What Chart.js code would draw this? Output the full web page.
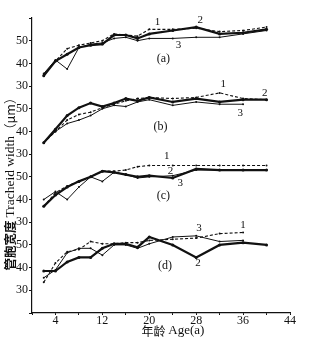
<!DOCTYPE html>
<html>
<head>
<meta charset="utf-8">
<script src="https://cdn.jsdelivr.net/npm/chart.js@4"></script>
<style>
  html, body { margin: 0; background: #fff; }
  #wrap { width: 322px; height: 348px; }
</style>
</head>
<body>
<div id="wrap"><canvas id="chart"></canvas></div>
<script>
// ages (years) where the widths were measured
const ages = [2, 4, 6, 8, 10, 12, 14, 16, 18, 20, 24, 28, 32, 36, 40];

// tracheid width (um), panel (a)..(d), series 1 (dashed), 2 (thick), 3 (thin)
const a1 = [35, 41, 46.5, 48, 49, 50, 53, 52.5, 52, 55, 55, 55.5, 54, 54.5, 56];
const a2 = [34.5, 41, 44, 47, 48, 48.5, 52.5, 52.5, 51, 53, 54.5, 56, 53, 53.5, 55];
const a3 = [35.5, 41.5, 37.5, 47, 48.5, 49, 51, 51.5, 50, 51, 51, 51.5, 51.5, 53, 54.5];

const b1 = [35, 40, 45, 47.5, 48.5, 50.5, 52, 53.5, 54.5, 55, 54.5, 55, 57, 54.5, 54];
const b2 = [35, 41, 47, 50.5, 52.5, 51, 52.5, 54.5, 53.5, 55, 53, 54.5, 53, 54, 54];
const b3 = [35, 40, 43.5, 45, 47, 50, 51.5, 51, 53, 54, 51.5, 53, 52, 52];

const c1 = [37, 43, 46, 48, 50, 52.5, 52.5, 53, 54.5, 55, 55, 55, 55, 55, 55];
const c2 = [37, 42, 45.5, 48, 50, 52.5, 52, 51, 50, 50.5, 49.5, 53.5, 53, 53, 53];
const c3 = [40, 43.5, 40, 45.5, 50, 48, 52, 51, 49.5, 50, 50.5, 53, 53, 53, 53];

const d1 = [33.5, 42, 47, 48, 51.5, 50.5, 50.5, 51, 51, 52, 52.5, 53, 55, 55.5];
const d2 = [38.5, 38.5, 42.5, 44.5, 44.5, 48.5, 50.5, 50.5, 49, 53.5, 50, 44.5, 50, 51, 50];
const d3 = [35.5, 39, 46.5, 48.5, 48.5, 45.5, 50, 50, 48.5, 50.5, 53.5, 54, 51.5, 52];

const panels = ['(a)', '(b)', '(c)', '(d)'];
const panelSeries = [[a1, a2, a3], [b1, b2, b3], [c1, c2, c3], [d1, d2, d3]];
// the four panels share one axis, each shifted up by 30 units
const panelShift = [90, 60, 30, 0];

const ink = '#111';
const serif = '"Liberation Serif", "DejaVu Serif", serif';
const cjk = '"Noto Sans CJK SC", sans-serif';

// series styles: 1 dashed, 2 thick, 3 thin
const styles = [
  { borderWidth: 1.1, borderDash: [3, 2], pointRadius: 1 },
  { borderWidth: 2.2, borderDash: [], pointRadius: 1.5 },
  { borderWidth: 1, borderDash: [], pointRadius: 1 },
];

const datasets = [];
panelSeries.forEach((series, p) => {
  series.forEach((vals, s) => {
    datasets.push({
      label: panels[p] + ' ' + (s + 1),
      data: vals.map((v, i) => ({ x: ages[i], y: v + panelShift[p] })),
      borderColor: ink,
      backgroundColor: ink,
      pointBorderWidth: 0,
      tension: 0,
      ...styles[s],
    });
  });
});

// text placed in data units: [age, width, text, panel]
const notes = [
  [21.4, 58, '1', 0], [28.7, 59, '2', 0], [25, 48, '3', 0], [22.4, 42, '(a)', 0],
  [32.6, 61, '1', 1], [39.7, 57, '2', 1], [35.5, 48, '3', 1], [21.9, 42, '(b)', 1],
  [23, 59, '1', 2], [23.6, 52.5, '2', 2], [25.3, 47.3, '3', 2], [22.4, 41.5, '(c)', 2],
  [28.5, 57.3, '3', 3], [36, 58.8, '1', 3], [28.3, 41.9, '2', 3], [22.7, 41, '(d)', 3],
];

// draw mixed-font text centred on (0, 0) of the current transform
function drawRuns(ctx, runs) {
  let total = 0;
  runs.forEach((r) => { ctx.font = r[1]; total += ctx.measureText(r[0]).width; });
  let x = -total / 2;
  ctx.textAlign = 'left';
  runs.forEach((r) => {
    ctx.font = r[1];
    ctx.fillText(r[0], x, 0);
    x += ctx.measureText(r[0]).width;
  });
}

const notesPlugin = {
  id: 'notes',
  afterDraw(chart) {
    const { ctx, scales: { x, y } } = chart;
    ctx.save();
    ctx.fillStyle = ink;
    ctx.textAlign = 'center';
    ctx.textBaseline = 'middle';
    notes.forEach(([age, w, txt, p]) => {
      ctx.font = (txt.length > 1 ? '12px ' : '11px ') + serif;
      ctx.fillText(txt, x.getPixelForValue(age), y.getPixelForValue(w + panelShift[p]));
    });
    // axis titles
    ctx.save();
    ctx.translate(173, 331);
    drawRuns(ctx, [['年龄 ', '12px ' + cjk], ['Age(a)', '13px ' + serif]]);
    ctx.restore();
    ctx.translate(10, 181);
    ctx.rotate(-Math.PI / 2);
    drawRuns(ctx, [
      ['管胞宽度 ', 'bold 12.5px ' + cjk],
      ['Tracheid width', '13.5px ' + serif],
      ['（μm）', '12.5px ' + cjk],
    ]);
    ctx.restore();
  },
};

new Chart(document.getElementById('chart'), {
  type: 'line',
  data: { datasets },
  options: {
    responsive: true,
    maintainAspectRatio: false,
    animation: false,
    layout: { padding: { top: 18, right: 32, left: 0, bottom: 0 } },
    plugins: { legend: { display: false }, tooltip: { enabled: false } },
    scales: {
      x: {
        type: 'linear',
        min: 0,
        max: 44,
        afterFit(scale) { scale.height = 35; },
        border: { color: ink, width: 1.2 },
        grid: { display: true, drawOnChartArea: false, tickLength: 2, color: ink },
        ticks: {
          stepSize: 4,
          autoSkip: false,
          maxRotation: 0,
          padding: -1,
          color: ink,
          font: { family: serif, size: 12 },
          callback: (v) => (v % 8 === 4 ? v : ''),
        },
      },
      y: {
        min: 20,
        max: 150,
        afterFit(scale) { scale.width = 32; },
        border: { color: ink, width: 1.2 },
        grid: { display: true, drawOnChartArea: false, tickLength: 3, color: ink },
        ticks: {
          stepSize: 10,
          autoSkip: false,
          padding: 1,
          color: ink,
          font: { family: serif, size: 12 },
          callback: (v) => (v >= 30 && v <= 140 ? ((v - 30) % 30) + 30 : ''),
        },
      },
    },
  },
  plugins: [notesPlugin],
});
</script>
</body>
</html>
